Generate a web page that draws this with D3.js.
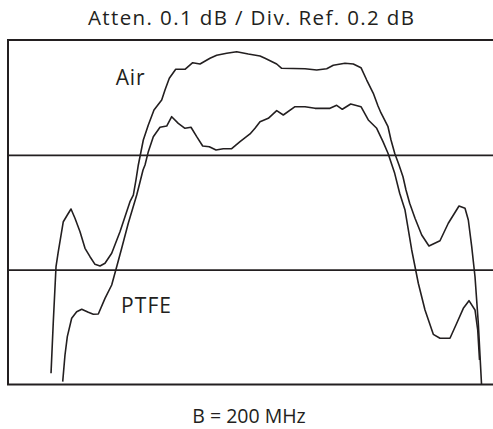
<!DOCTYPE html>
<html>
<head>
<meta charset="utf-8">
<script src="https://cdn.jsdelivr.net/npm/d3@7"></script>
<style>
  html, body { margin: 0; padding: 0; background: #ffffff; }
  svg { display: block; }
  text { font-family: "Open Sans", Lato, sans-serif; fill: #231f20; }
</style>
</head>
<body>
<svg id="chart" width="493" height="429"></svg>
<script>
// ---- data (x: sweep position in % of span, y: relative level in dB) ----
const titleText = "Atten. 0.1 dB / Div. Ref. 0.2 dB";
const xAxisLabel = "B = 200 MHz";
const seriesNames = ["Air", "PTFE"];
const gridDb = [0.2, 0.4];

const airX = [8.87, 9.34, 9.90, 10.37, 11.40, 12.23, 12.99, 13.81, 14.85, 15.88, 16.91, 17.94, 18.97, 20.00, 21.38, 23.09, 24.12, 25.15, 25.84, 26.39, 26.87, 27.90, 28.93, 30.10, 31.69, 32.37, 33.26, 34.58, 36.49, 38.08, 39.59, 41.65, 43.03, 45.09, 47.15, 49.55, 51.96, 52.99, 55.40, 56.43, 61.24, 63.65, 65.71, 67.07, 69.48, 71.20, 72.78, 73.96, 75.32, 76.29, 76.91, 78.35, 78.97, 79.73, 80.62, 81.44, 82.06, 82.82, 83.92, 85.30, 86.80, 89.07, 90.78, 92.99, 94.23, 94.91, 95.61, 96.29, 96.97, 97.63];
const airDb = [0.0195, 0.1094, 0.2052, 0.2313, 0.2835, 0.2952, 0.3057, 0.2895, 0.2661, 0.2372, 0.2226, 0.2093, 0.2064, 0.2111, 0.2285, 0.2661, 0.2922, 0.3184, 0.3300, 0.3562, 0.3823, 0.4258, 0.4520, 0.4781, 0.4955, 0.5129, 0.5333, 0.5490, 0.5490, 0.5605, 0.5582, 0.5681, 0.5734, 0.5768, 0.5796, 0.5756, 0.5721, 0.5681, 0.5582, 0.5507, 0.5500, 0.5477, 0.5500, 0.5559, 0.5594, 0.5582, 0.5518, 0.5303, 0.5072, 0.4851, 0.4729, 0.4490, 0.4258, 0.4027, 0.3823, 0.3619, 0.3388, 0.3156, 0.2895, 0.2604, 0.2412, 0.2504, 0.2808, 0.3109, 0.3069, 0.2865, 0.2400, 0.1877, 0.1066, 0.0009];

const ptfeX = [11.28, 11.75, 12.23, 13.13, 14.16, 15.20, 16.56, 17.59, 18.62, 20.00, 21.38, 22.41, 23.44, 24.80, 26.54, 27.22, 27.84, 28.25, 28.93, 29.96, 31.34, 32.72, 33.75, 35.11, 36.49, 37.73, 38.91, 40.14, 41.51, 42.89, 44.39, 46.12, 47.84, 49.90, 50.93, 51.96, 53.67, 55.40, 56.76, 59.18, 61.24, 63.30, 66.39, 67.77, 68.93, 70.66, 72.78, 74.29, 76.02, 77.32, 78.35, 79.73, 80.76, 81.86, 83.24, 84.60, 85.98, 87.69, 89.07, 91.13, 92.52, 93.88, 95.05, 96.29, 96.85, 97.22];
const ptfeDb = [0.0049, 0.0514, 0.0833, 0.1153, 0.1268, 0.1310, 0.1257, 0.1223, 0.1228, 0.1501, 0.1733, 0.2052, 0.2372, 0.2808, 0.3300, 0.3527, 0.3736, 0.3823, 0.4055, 0.4316, 0.4480, 0.4502, 0.4664, 0.4549, 0.4462, 0.4480, 0.4316, 0.4154, 0.4142, 0.4084, 0.4107, 0.4107, 0.4229, 0.4363, 0.4462, 0.4577, 0.4636, 0.4769, 0.4694, 0.4838, 0.4838, 0.4810, 0.4810, 0.4863, 0.4793, 0.4885, 0.4838, 0.4607, 0.4462, 0.4229, 0.4027, 0.3678, 0.3330, 0.3039, 0.2343, 0.1763, 0.1298, 0.0874, 0.0805, 0.0805, 0.1066, 0.1327, 0.1460, 0.1298, 0.0949, 0.0427];

// label anchor points (data units)
const labelX = [22.2, 23.3];
const labelDb = [0.5217, 0.1237];

// ---- layout ----
const W = 493, H = 429;
const frame = { left: 8, right: 493, top: 40, bottom: 384.5 };
const ink = "#231f20";

const svg = d3.select("#chart");

const x = d3.scaleLinear().domain([0, 100]).range([frame.left, frame.right]);
const y = d3.scaleLinear().domain([0, 0.6]).range([frame.bottom, frame.top]);

svg.append("defs").append("clipPath").attr("id", "clip")
  .append("rect")
  .attr("x", frame.left).attr("y", frame.top)
  .attr("width", frame.right - frame.left + 2).attr("height", frame.bottom - frame.top);

// grid lines via axis
const gridAxis = d3.axisLeft(y).tickValues(gridDb).tickSize(-(frame.right - frame.left + 2)).tickFormat("");
const g = svg.append("g").attr("transform", `translate(${frame.left},0)`).call(gridAxis);
g.select(".domain").remove();
g.selectAll(".tick line").attr("stroke", ink).attr("stroke-width", 1.6);

// frame
svg.append("rect")
  .attr("x", frame.left).attr("y", frame.top)
  .attr("width", frame.right - frame.left + 4).attr("height", frame.bottom - frame.top)
  .attr("fill", "none").attr("stroke", ink).attr("stroke-width", 2);

const line = d3.line().x(d => x(d[0])).y(d => y(d[1])).curve(d3.curveLinear);
const series = [d3.zip(airX, airDb), d3.zip(ptfeX, ptfeDb)];

svg.append("g").attr("clip-path", "url(#clip)")
  .selectAll("path").data(series).join("path")
  .attr("d", line)
  .attr("fill", "none").attr("stroke", ink).attr("stroke-width", 1.6)
  .attr("stroke-linejoin", "round");

// series labels
const labelW = [29, 50];
svg.selectAll("text.lbl").data(seriesNames).join("text")
  .attr("class", "lbl")
  .attr("x", (d, i) => x(labelX[i]))
  .attr("y", (d, i) => y(labelDb[i]))
  .attr("font-size", 21)
  .attr("textLength", (d, i) => labelW[i]).attr("lengthAdjust", "spacing")
  .text(d => d);

// title and bottom label
svg.append("text").attr("x", 251).attr("y", 25).attr("text-anchor", "middle")
  .attr("font-size", 20.5)
  .attr("textLength", 326).attr("lengthAdjust", "spacing")
  .text(titleText);
svg.append("text").attr("x", 249).attr("y", 423).attr("text-anchor", "middle")
  .attr("font-size", 19.5)
  .text(xAxisLabel);
</script>
</body>
</html>
